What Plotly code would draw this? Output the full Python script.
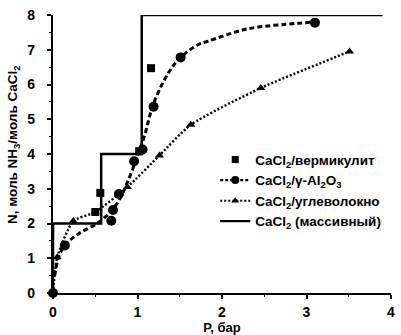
import plotly.graph_objects as go

# CaCl2 (massive) step isotherm
bulk_p = [0, 0, 0.57, 0.57, 1.05, 1.05, 3.9]
bulk_n = [0, 2, 2, 4, 4, 8, 8]

# CaCl2/vermiculite
verm_p = [0.50, 0.56, 1.02, 1.16]
verm_n = [2.33, 2.88, 4.08, 6.47]

# CaCl2/gamma-Al2O3 measured points
alu_p = [0, 0.14, 0.69, 0.71, 0.78, 0.96, 1.06, 1.19, 1.51, 3.10]
alu_n = [0, 1.37, 2.08, 2.39, 2.85, 3.79, 4.13, 5.36, 6.78, 7.78]

# fitted curve through the CaCl2/gamma-Al2O3 data
alu_fit_p = [0.02, 0.07, 0.14, 0.30, 0.55, 0.75, 0.90, 1.00, 1.08, 1.19, 1.37, 1.51, 1.72, 1.84, 2.30, 2.89, 3.10]
alu_fit_n = [0.50, 1.05, 1.37, 1.70, 2.05, 2.55, 3.30, 3.95, 4.50, 5.45, 6.35, 6.78, 7.15, 7.25, 7.60, 7.76, 7.80]

# CaCl2/carbon fibre
cf_p = [0, 0.05, 0.24, 0.50, 0.88, 1.26, 1.63, 2.46, 3.51]
cf_n = [0, 1.03, 2.07, 2.33, 3.05, 3.96, 4.84, 5.90, 6.95]

x_ticks = [0, 1, 2, 3, 4]
y_ticks = [0, 1, 2, 3, 4, 5, 6, 7, 8]

FONT = "Liberation Sans"
BLACK = "#000000"

fig = go.Figure()

fig.add_trace(go.Scatter(
    x=bulk_p, y=bulk_n, mode="lines",
    line=dict(color=BLACK, width=2.5),
    showlegend=False, cliponaxis=False,
))

fig.add_trace(go.Scatter(
    x=alu_fit_p, y=alu_fit_n, mode="lines",
    line=dict(color=BLACK, width=3, dash="5px,3px", shape="spline"),
    showlegend=False, cliponaxis=False,
))
fig.add_trace(go.Scatter(
    x=alu_p, y=alu_n, mode="markers",
    marker=dict(symbol="circle", size=10, color=BLACK),
    showlegend=False, cliponaxis=False,
))

fig.add_trace(go.Scatter(
    x=cf_p, y=cf_n, mode="lines+markers",
    line=dict(color=BLACK, width=2.4, dash="2px,2px", shape="spline", smoothing=0.6),
    marker=dict(symbol="triangle-up", size=8, color=BLACK),
    showlegend=False, cliponaxis=False,
))

fig.add_trace(go.Scatter(
    x=verm_p, y=verm_n, mode="markers",
    marker=dict(symbol="square", size=8, color=BLACK),
    showlegend=False, cliponaxis=False,
))

# legend keys
fig.add_trace(go.Scatter(
    x=[None], y=[None], mode="markers",
    marker=dict(symbol="square", size=7, color=BLACK),
    name="CaCl<sub>2</sub>/вермикулит",
))
fig.add_trace(go.Scatter(
    x=[None], y=[None], mode="lines+markers",
    line=dict(color=BLACK, width=2.2, dash="3px,2px"),
    marker=dict(symbol="circle", size=8, color=BLACK),
    name="CaCl<sub>2</sub>/γ-Al<sub>2</sub>O<sub>3</sub>",
))
fig.add_trace(go.Scatter(
    x=[None], y=[None], mode="lines+markers",
    line=dict(color=BLACK, width=2, dash="2px,2px"),
    marker=dict(symbol="triangle-up", size=7, color=BLACK),
    name="CaCl<sub>2</sub>/углеволокно",
))
fig.add_trace(go.Scatter(
    x=[None], y=[None], mode="lines",
    line=dict(color=BLACK, width=2.2),
    name="CaCl<sub>2</sub> (массивный)",
))

axis_common = dict(
    showgrid=False, zeroline=False,
    showline=True, linecolor=BLACK, linewidth=2.2,
    ticks="outside", ticklen=4, tickwidth=1.5, tickcolor=BLACK,
    tickfont=dict(family=FONT, size=14, color=BLACK, weight="bold"),
    minor=dict(dtick=0.5, ticks="outside", ticklen=2, tickwidth=1, tickcolor=BLACK),
)

fig.update_layout(
    width=401, height=335,
    margin=dict(l=53, r=6, t=15, b=39),
    plot_bgcolor="white", paper_bgcolor="white",
    font=dict(family=FONT, size=12, color=BLACK, weight="bold"),
    xaxis=dict(
        range=[0, 4], tickvals=x_ticks, ticktext=[str(v) for v in x_ticks],
        title=dict(text="P, бар", standoff=0,
                   font=dict(family=FONT, size=13, color=BLACK, weight="bold")),
        ticklabelstandoff=1,
        **axis_common,
    ),
    yaxis=dict(
        range=[0, 8], tickvals=y_ticks, ticktext=[str(v) for v in y_ticks],
        ticklabelstandoff=9,
        **axis_common,
    ),
    annotations=[dict(
        text="N, моль NH<sub>3</sub>/моль CaCl<sub>2</sub>",
        xref="paper", yref="paper", x=-0.117, y=0.534,
        xanchor="center", yanchor="middle", textangle=-90, showarrow=False,
        font=dict(family=FONT, size=13.5, color=BLACK, weight="bold"),
    )],
    legend=dict(
        x=0.48, y=0.535, xanchor="left", yanchor="top",
        bgcolor="rgba(0,0,0,0)", borderwidth=0,
        font=dict(family=FONT, size=13.5, color=BLACK, weight="bold"),
        itemwidth=30, tracegroupgap=0,
    ),
)

fig.write_html("out.html")
